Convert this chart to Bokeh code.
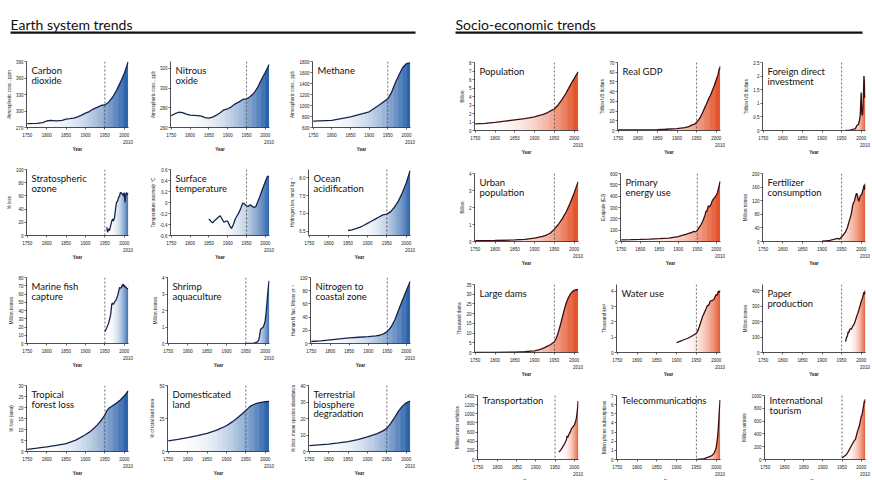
from bokeh.plotting import figure
from bokeh.models import Range1d, FixedTicker, Label, Span, BoxAnnotation, Spacer, LinearAxis
from bokeh.layouts import row, column
from bokeh.embed import file_html
from bokeh.resources import INLINE

# ---------------- data ----------------
x_ticks = [1750, 1800, 1850, 1900, 1950, 2000]

co2_years = [1750, 1775, 1790, 1800, 1810, 1825, 1840, 1850, 1860, 1870, 1880, 1890, 1900, 1910, 1920, 1930, 1940, 1950, 1960, 1970, 1980, 1990, 2000, 2010]
co2_vals = [277, 277.6, 279, 281.8, 283, 282, 283, 285.3, 286, 287, 289.4, 292.4, 296, 299, 303.5, 306.5, 310, 311, 316, 325, 337, 352, 368, 389]

n2o_years = [1750, 1760, 1770, 1780, 1790, 1800, 1820, 1830, 1840, 1850, 1860, 1870, 1880, 1890, 1900, 1910, 1920, 1930, 1940, 1950, 1960, 1970, 1980, 1990, 2000, 2010]
n2o_vals = [272, 274, 275.5, 275, 273.5, 272.5, 272, 271.5, 270, 269.5, 270.5, 272.5, 275, 278, 279, 281, 284, 286, 288.5, 289, 291.5, 295, 301, 309, 316, 324]

ch4_years = [1750, 1800, 1850, 1900, 1925, 1950, 1960, 1970, 1980, 1990, 2000, 2010]
ch4_vals = [716, 730, 795, 885, 1000, 1120, 1235, 1410, 1555, 1690, 1760, 1775]

ozone_years = [1955, 1957, 1960, 1962, 1965, 1968, 1970, 1972, 1975, 1978, 1980, 1983, 1985, 1988, 1990, 1992, 1994, 1996, 1998, 2000, 2002, 2004, 2006, 2008, 2010]
ozone_vals = [12.5, 5, 10, 7.5, 15, 22, 25, 22, 27, 42, 50, 52, 57, 60, 65, 65, 63, 63, 60, 65, 50, 62, 65, 62, 64]

temp_years = [1850, 1855, 1860, 1865, 1870, 1875, 1880, 1885, 1890, 1895, 1900, 1905, 1910, 1915, 1920, 1925, 1930, 1935, 1940, 1945, 1950, 1955, 1960, 1965, 1970, 1975, 1980, 1985, 1990, 1995, 2000, 2005, 2010]
temp_vals = [-0.30, -0.34, -0.37, -0.33, -0.30, -0.27, -0.24, -0.30, -0.36, -0.34, -0.34, -0.42, -0.47, -0.40, -0.30, -0.24, -0.18, -0.10, -0.01, -0.03, -0.06, -0.07, -0.04, -0.07, -0.09, -0.07, 0.02, 0.10, 0.20, 0.29, 0.38, 0.47, 0.48]

ocean_years = [1850, 1860, 1870, 1880, 1890, 1900, 1910, 1920, 1930, 1940, 1950, 1960, 1970, 1980, 1990, 2000, 2010]
ocean_vals = [6.52, 6.54, 6.57, 6.61, 6.66, 6.72, 6.78, 6.84, 6.90, 6.96, 6.98, 7.05, 7.18, 7.35, 7.58, 7.85, 8.20]

fish_years = [1950, 1955, 1960, 1965, 1968, 1970, 1972, 1975, 1978, 1980, 1983, 1985, 1988, 1990, 1993, 1995, 1997, 1998, 2000, 2002, 2004, 2006, 2008, 2010]
fish_vals = [14.3, 19, 25, 35, 48, 49, 47.5, 50, 52, 54, 58, 62, 68, 67, 68, 71, 72, 69, 71, 68, 69, 67, 66.5, 66]

shrimp_years = [1950, 1960, 1970, 1975, 1980, 1983, 1985, 1987, 1988, 1990, 1993, 1995, 1998, 2000, 2002, 2004, 2006, 2008, 2010]
shrimp_vals = [0, 0.01, 0.02, 0.05, 0.1, 0.2, 0.4, 0.7, 0.85, 0.9, 0.95, 1.0, 1.2, 1.4, 1.8, 2.3, 2.9, 3.4, 3.8]

nitro_years = [1750, 1775, 1800, 1825, 1850, 1875, 1900, 1920, 1930, 1940, 1950, 1960, 1970, 1980, 1990, 2000, 2010]
nitro_vals = [3, 4, 5.5, 7, 8.5, 9.5, 10.5, 11.5, 12.5, 14.5, 18, 25, 36, 51, 66, 80, 94]

forest_years = [1750, 1775, 1800, 1825, 1850, 1875, 1900, 1910, 1920, 1930, 1940, 1950, 1955, 1960, 1970, 1980, 1990, 2000, 2010]
forest_vals = [1, 1.5, 2.1, 2.8, 3.6, 5.2, 7.6, 8.8, 10.2, 12, 14, 16.5, 18.5, 19.6, 20.8, 22, 23.4, 25.2, 27.5]

land_years = [1750, 1775, 1800, 1825, 1850, 1875, 1900, 1910, 1920, 1930, 1940, 1950, 1960, 1970, 1980, 1990, 2000, 2010]
land_vals = [8, 9.2, 10.5, 12, 13.7, 16.2, 19.5, 21.5, 23.5, 26, 28.5, 31, 34, 35.6, 36.6, 37.2, 37.7, 38]

terr_years = [1750, 1775, 1800, 1825, 1850, 1875, 1900, 1925, 1940, 1950, 1960, 1970, 1980, 1990, 2000, 2010]
terr_vals = [3.5, 4, 4.5, 5.2, 6, 7.2, 8.8, 10.8, 12.5, 14, 17, 20.5, 24.5, 27.5, 29.5, 30.5]

pop_years = [1750, 1775, 1800, 1825, 1850, 1875, 1900, 1910, 1920, 1930, 1940, 1950, 1960, 1970, 1980, 1990, 2000, 2010]
pop_vals = [0.77, 0.85, 0.95, 1.1, 1.25, 1.4, 1.6, 1.75, 1.86, 2.05, 2.3, 2.53, 3.03, 3.69, 4.44, 5.31, 6.12, 6.9]

gdp_years = [1750, 1800, 1850, 1870, 1900, 1920, 1930, 1940, 1945, 1950, 1955, 1960, 1965, 1970, 1975, 1980, 1985, 1990, 1995, 2000, 2005, 2008, 2009, 2010]
gdp_vals = [0.6, 0.7, 1.0, 1.3, 2.0, 3.0, 4.0, 6.0, 6.5, 8.5, 11, 14, 18, 23, 27, 32, 36, 41, 46, 52, 58, 64, 63, 66]

fdi_years = [1960, 1970, 1975, 1980, 1985, 1988, 1990, 1993, 1995, 1997, 1998, 1999, 2000, 2001, 2002, 2003, 2004, 2005, 2006, 2007, 2008, 2009, 2010]
fdi_vals = [0.005, 0.01, 0.02, 0.05, 0.06, 0.16, 0.2, 0.22, 0.33, 0.48, 0.7, 1.1, 1.4, 0.8, 0.6, 0.55, 0.7, 1.0, 1.45, 2.0, 1.8, 1.2, 1.3]

urban_years = [1750, 1800, 1850, 1875, 1900, 1920, 1930, 1940, 1950, 1960, 1970, 1980, 1990, 2000, 2010]
urban_vals = [0.05, 0.06, 0.09, 0.13, 0.2, 0.3, 0.38, 0.5, 0.73, 1.0, 1.35, 1.75, 2.26, 2.86, 3.5]

energy_years = [1750, 1775, 1800, 1825, 1850, 1875, 1900, 1910, 1920, 1925, 1930, 1935, 1940, 1945, 1950, 1955, 1960, 1965, 1970, 1973, 1975, 1979, 1982, 1985, 1990, 1995, 2000, 2003, 2005, 2008, 2010]
energy_vals = [15, 16, 18, 21, 25, 30, 43, 53, 62, 70, 75, 78, 90, 85, 100, 125, 150, 185, 230, 270, 265, 315, 305, 320, 365, 385, 410, 430, 460, 500, 530]

fert_years = [1900, 1910, 1920, 1930, 1935, 1940, 1945, 1950, 1955, 1960, 1965, 1970, 1975, 1978, 1980, 1983, 1985, 1988, 1990, 1992, 1994, 1996, 1998, 2000, 2002, 2004, 2006, 2007, 2008, 2009, 2010]
fert_vals = [1, 2, 3, 6, 8, 9, 7, 14, 20, 28, 42, 62, 82, 105, 113, 120, 130, 142, 138, 125, 118, 128, 135, 137, 140, 150, 158, 165, 160, 152, 170]

dams_years = [1750, 1800, 1850, 1875, 1900, 1910, 1920, 1930, 1940, 1950, 1955, 1960, 1965, 1970, 1975, 1980, 1985, 1990, 1995, 2000, 2005, 2010]
dams_vals = [0, 0.1, 0.2, 0.4, 0.8, 1.3, 2, 3, 4, 5.5, 7.5, 10.5, 14, 18, 22, 25.5, 28, 30, 31.2, 32, 32.3, 32.3]

water_years = [1900, 1910, 1920, 1930, 1940, 1950, 1955, 1960, 1965, 1970, 1975, 1978, 1980, 1983, 1985, 1988, 1990, 1993, 1995, 1998, 2000, 2003, 2005, 2008, 2010]
water_vals = [0.65, 0.75, 0.85, 0.95, 1.1, 1.25, 1.5, 1.9, 2.3, 2.6, 2.9, 3.1, 3.05, 3.2, 3.35, 3.4, 3.4, 3.45, 3.5, 3.7, 3.8, 3.75, 4.0, 3.95, 4.05]

paper_years = [1960, 1962, 1965, 1967, 1968, 1970, 1973, 1975, 1978, 1980, 1983, 1985, 1988, 1990, 1993, 1995, 1998, 2000, 2003, 2005, 2007, 2009, 2010]
paper_vals = [70, 90, 110, 135, 125, 145, 155, 150, 170, 175, 190, 205, 230, 245, 265, 285, 310, 330, 350, 370, 390, 375, 400]

transport_years = [1960, 1963, 1965, 1968, 1970, 1973, 1975, 1978, 1980, 1981, 1983, 1985, 1987, 1990, 1992, 1995, 1997, 1999, 2000, 2002, 2004, 2005, 2007, 2009, 2010]
transport_vals = [160, 190, 210, 250, 280, 320, 350, 400, 450, 510, 480, 530, 560, 610, 660, 700, 720, 750, 740, 800, 850, 880, 1000, 1150, 1280]

telecom_years = [1950, 1960, 1970, 1980, 1985, 1990, 1995, 1998, 2000, 2002, 2004, 2006, 2008, 2010]
telecom_vals = [0.0, 0.05, 0.1, 0.25, 0.35, 0.45, 0.7, 1.0, 1.3, 1.9, 2.6, 3.8, 5.3, 6.5]

tourism_years = [1950, 1955, 1960, 1965, 1970, 1975, 1980, 1985, 1990, 1995, 2000, 2002, 2005, 2008, 2009, 2010]
tourism_vals = [25, 46, 69, 113, 166, 222, 278, 320, 435, 527, 674, 700, 800, 917, 882, 940]

earth_panels = [
    (["Carbon", "dioxide"], "Atmospheric conc., ppm", co2_years, co2_vals, (270, 390), [270, 300, 330, 360, 390], None),
    (["Nitrous", "oxide"], "Atmospheric conc., ppb", n2o_years, n2o_vals, (260, 327), [260, 280, 300, 320], None),
    (["Methane"], "Atmospheric conc., ppb", ch4_years, ch4_vals, (600, 1800), [600, 800, 1000, 1200, 1400, 1600, 1800], None),
    (["Stratospheric", "ozone"], "% loss", ozone_years, ozone_vals, (0, 100), [0, 20, 40, 60, 80, 100], None),
    (["Surface", "temperature"], "Temperature anomaly °C", temp_years, temp_vals, (-0.6, 0.6), [-0.6, -0.4, -0.2, 0, 0.2, 0.4, 0.6], ["-0.6", "-0.4", "-0.2", "0", "0.2", "0.4", "0.6"]),
    (["Ocean", "acidification"], "Hydrogen ion, nmol kg⁻¹", ocean_years, ocean_vals, (6.38, 8.23), [6.5, 7.0, 7.5, 8.0], ["6.5", "7.0", "7.5", "8.0"]),
    (["Marine fish", "capture"], "Million tonnes", fish_years, fish_vals, (0, 80), [0, 10, 20, 30, 40, 50, 60, 70, 80], None),
    (["Shrimp", "aquaculture"], "Million tonnes", shrimp_years, shrimp_vals, (0, 4), [0, 1, 2, 3, 4], None),
    (["Nitrogen to", "coastal zone"], "Human N flux, Mtons yr⁻¹", nitro_years, nitro_vals, (0, 100), [0, 20, 40, 60, 80, 100], None),
    (["Tropical", "forest loss"], "% loss (area)", forest_years, forest_vals, (0, 30), [0, 5, 10, 15, 20, 25, 30], None),
    (["Domesticated", "land"], "% of total land area", land_years, land_vals, (0, 50), [0, 25, 50], None),
    (["Terrestrial", "biosphere", "degradation"], "% decr. mean species abundance", terr_years, terr_vals, (0, 40), [0, 10, 20, 30, 40], None),
]

socio_panels = [
    (["Population"], "Billion", pop_years, pop_vals, (0, 8), [0, 1, 2, 3, 4, 5, 6, 7, 8], None),
    (["Real GDP"], "Trillion US dollars", gdp_years, gdp_vals, (0, 70), [0, 10, 20, 30, 40, 50, 60, 70], None),
    (["Foreign direct", "investment"], "Trillion US dollars", fdi_years, fdi_vals, (0, 2.5), [0, 0.5, 1, 1.5, 2, 2.5], ["0", "0.5", "1", "1.5", "2", "2.5"]),
    (["Urban", "population"], "Billion", urban_years, urban_vals, (0, 4), [0, 1, 2, 3, 4], None),
    (["Primary", "energy use"], "Exajoule (EJ)", energy_years, energy_vals, (0, 600), [0, 100, 200, 300, 400, 500, 600], None),
    (["Fertilizer", "consumption"], "Million tonnes", fert_years, fert_vals, (0, 200), [0, 40, 80, 120, 160, 200], None),
    (["Large dams"], "Thousand dams", dams_years, dams_vals, (0, 35), [0, 5, 10, 15, 20, 25, 30, 35], None),
    (["Water use"], "Thousand km³", water_years, water_vals, (0, 4.45), [0, 1, 2, 3, 4], None),
    (["Paper", "production"], "Million tonnes", paper_years, paper_vals, (0, 440), [0, 100, 200, 300, 400], None),
    (["Transportation"], "Million motor vehicles", transport_years, transport_vals, (0, 1400), [0, 200, 400, 600, 800, 1000, 1200, 1400], None),
    (["Telecommunications"], "Billion phone subscriptions", telecom_years, telecom_vals, (0, 7), [0, 1, 2, 3, 4, 5, 6, 7], None),
    (["International", "tourism"], "Million arrivals", tourism_years, tourism_vals, (0, 1000), [0, 200, 400, 600, 800, 1000], None),
]

# ---------------- styling ----------------
BLUE_END = (31, 90, 166)
ORANGE_END = (226, 72, 28)
BLUE_LINE = "#15224d"
ORANGE_LINE = "#3d0d10"
SMALL_FONT = "Liberation Sans"
TITLE_FONT = "Lato"
INK = "#222222"
GRAD_STEPS = 120
GRAD_POWER = 2.5

# per-column geometry: (figure width, left border, frame width)
LEFT_COLS = [(147, 26, 102), (140, 20, 102), (141, 21, 102)]
RIGHT_COLS = [(145, 22, 104), (142, 19, 104), (133, 23, 103)]


def mix(end, f):
    f = max(0.0, min(1.0, f))
    return "#%02x%02x%02x" % tuple(int(round(255 + (e - 255) * f)) for e in end)


def style_axis(ax):
    ax.axis_line_color = INK
    ax.axis_line_width = 0.8
    ax.major_tick_line_color = INK
    ax.major_tick_line_width = 0.7
    ax.major_tick_out = 2
    ax.major_tick_in = 0
    ax.minor_tick_line_color = None
    ax.major_label_text_font = SMALL_FONT
    ax.major_label_text_font_size = "4.5px"
    ax.major_label_text_color = INK


def make_panel(spec, c, r, side):
    titles, ylabel, yrs, vals, yr, yticks, ylabels = spec
    if side == "L":
        W, L, FW = LEFT_COLS[c]
        T, FH = 5, 66
        B = 37 if r < 3 else 29
        end, lcol = BLUE_END, BLUE_LINE
    else:
        W, L, FW = RIGHT_COLS[c]
        T, FH = 6, 68
        B = 37 if r < 3 else 23
        end, lcol = ORANGE_END, ORANGE_LINE
    R = W - L - FW
    H = T + FH + B
    p = figure(width=W, height=H, x_range=Range1d(1748, 2011), y_range=Range1d(*yr),
               min_border_left=L, min_border_right=R, min_border_top=T, min_border_bottom=B,
               toolbar_location=None, output_backend="svg", title=None)
    p.outline_line_color = None
    p.background_fill_color = "white"
    p.border_fill_color = "white"
    p.xgrid.visible = False
    p.ygrid.visible = False

    # horizontal colour gradient (white -> full colour) from the first year to 2010 ...
    x_start, x_end = yrs[0], yrs[-1]
    step = (x_end - x_start) / GRAD_STEPS
    lefts = [x_start + i * step for i in range(GRAD_STEPS)]
    rights = [lf + step * 1.6 if i < GRAD_STEPS - 1 else x_end for i, lf in enumerate(lefts)]
    cols = [mix(end, ((lf + 0.5 * step - x_start) / (x_end - x_start)) ** GRAD_POWER) for lf in lefts]
    top_val = max(vals)
    p.quad(left=lefts, right=rights, bottom=yr[0], top=top_val,
           fill_color=cols, line_color=None)
    # ... kept only below the curve: everything above the series is painted white
    p.varea(x=yrs, y1=vals, y2=[top_val + 0.02 * (yr[1] - yr[0])] * len(yrs), fill_color="white")

    p.add_layout(Span(location=1950, dimension="height", line_color="#444444",
                      line_dash="2 2", line_width=0.8))
    p.line(yrs, vals, line_color=lcol, line_width=1.3)

    # axes
    p.xaxis.ticker = FixedTicker(ticks=x_ticks)
    p.yaxis.ticker = FixedTicker(ticks=yticks)
    if ylabels:
        p.yaxis.major_label_overrides = {k: v for k, v in zip(yticks, ylabels)}
    style_axis(p.xaxis[0])
    style_axis(p.yaxis[0])
    p.xaxis.major_label_standoff = 3
    p.yaxis.major_label_standoff = 1
    p.yaxis.axis_label = ylabel
    p.yaxis.axis_label_text_font = SMALL_FONT
    p.yaxis.axis_label_text_font_size = "4.5px"
    p.yaxis.axis_label_text_font_style = "normal"
    p.yaxis.axis_label_text_color = INK
    p.yaxis.axis_label_standoff = 1

    # second bottom axis: the "2010" end label and the "Year" caption
    ax2 = LinearAxis(ticker=FixedTicker(ticks=[2010]), axis_label="Year")
    ax2.axis_line_color = None
    ax2.major_tick_line_color = None
    ax2.minor_tick_line_color = None
    ax2.major_tick_out = 0
    ax2.major_tick_in = 0
    ax2.major_label_standoff = 0
    ax2.major_label_text_font = SMALL_FONT
    ax2.major_label_text_font_size = "4.5px"
    ax2.major_label_text_color = INK
    ax2.axis_label_standoff = 0
    ax2.axis_label_text_font = SMALL_FONT
    ax2.axis_label_text_font_size = "4.5px"
    ax2.axis_label_text_font_style = "bold"
    ax2.axis_label_text_color = INK
    p.add_layout(ax2, "below")

    # panel title
    for k, line in enumerate(titles):
        p.add_layout(Label(x=5, y=FH - 9 - 9.5 * k, x_units="screen", y_units="screen",
                           text=line, text_font=TITLE_FONT, text_font_size="9.5px",
                           text_baseline="alphabetic", text_color="#111111"))
    return p


def make_header(text, W, x0, x1):
    h = figure(width=W, height=56, x_range=Range1d(0, W), y_range=Range1d(56, 0),
               min_border=0, toolbar_location=None, output_backend="svg", title=None,
               x_axis_location=None, y_axis_location=None)
    h.outline_line_color = None
    h.xgrid.visible = False
    h.ygrid.visible = False
    h.add_layout(Label(x=x0, y=24, text=text, text_font=TITLE_FONT, text_font_size="14px",
                       text_baseline="alphabetic", text_color="#111111"))
    h.add_layout(BoxAnnotation(left=x0, right=x1, top=31, bottom=33.2, fill_color="#111111",
                               fill_alpha=1, line_color=None))
    return h


LEFT_W = sum(c[0] for c in LEFT_COLS)
RIGHT_GAP = 24
RIGHT_W = RIGHT_GAP + sum(c[0] for c in RIGHT_COLS)

left_rows = [make_header("Earth system trends", LEFT_W, 10, 415)]
for r in range(4):
    left_rows.append(row([make_panel(earth_panels[r * 3 + c], c, r, "L") for c in range(3)]))

right_rows = [make_header("Socio-economic trends", RIGHT_W, 455 - LEFT_W, 862 - LEFT_W)]
for r in range(4):
    figs = [make_panel(socio_panels[r * 3 + c], c, r, "R") for c in range(3)]
    right_rows.append(row([Spacer(width=RIGHT_GAP, height=figs[0].height)] + figs))

layout = row(column(left_rows), column(right_rows))

open("out.html", "w").write(file_html(layout, INLINE))
